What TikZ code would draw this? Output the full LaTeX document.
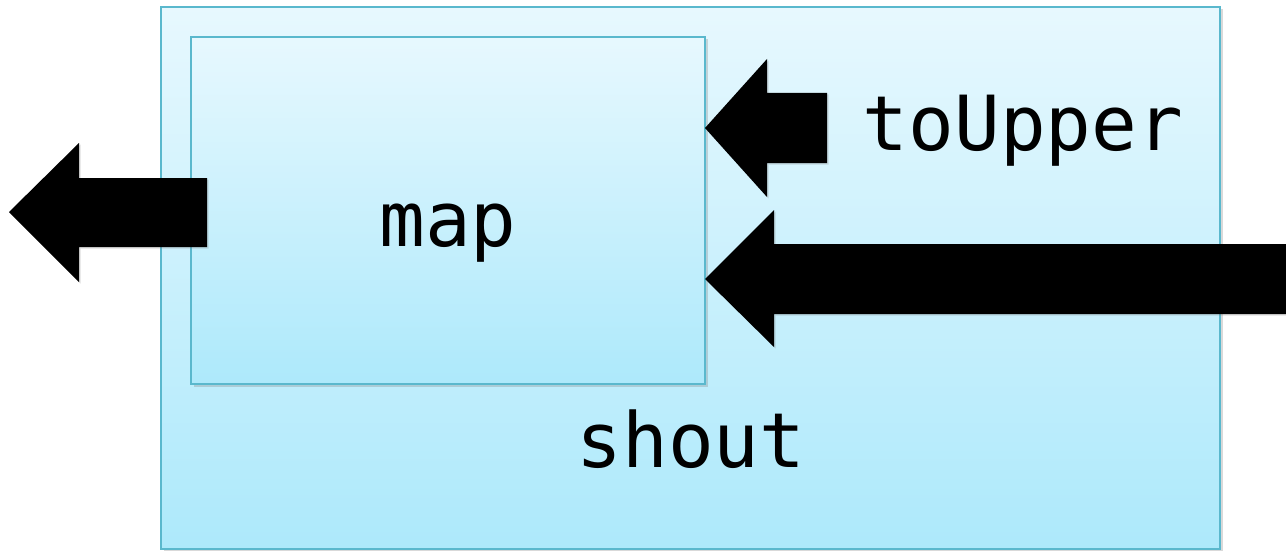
\documentclass[tikz,border=0pt]{standalone}
\usepackage{fontspec}
\newfontfamily\codefont{DejaVu Sans Mono}
\usetikzlibrary{shadows}
\definecolor{boxtop}{HTML}{E7F8FE}
\definecolor{boxbottom}{HTML}{ADE9FB}
\definecolor{boxline}{HTML}{5AB8CD}
\tikzset{
  panel/.style={draw=boxline, line width=2.5pt, top color=boxtop, bottom color=boxbottom,
    drop shadow={shadow xshift=2.5pt, shadow yshift=-2.5pt, opacity=0.3}},
  blockarrow/.style={fill=black, draw=none,
    drop shadow={shadow xshift=1.5pt, shadow yshift=-1.5pt, opacity=0.25}},
  codelabel/.style={font=\codefont\fontsize{76}{80}\selectfont, anchor=base, inner sep=0pt}
}
\begin{document}
\begin{tikzpicture}[x=1pt, y=-1pt]
  \useasboundingbox (0,0) rectangle (1286,551);
  % outer and inner boxes
  \path[panel] (161,7) rectangle (1220,549);
  \path[panel] (191,37) rectangle (705,384);
  % labels
  \node[codelabel] (map) at (448,246) {map};
  \node[codelabel] (toUpper) at (1023,150) {toUpper};
  \node[codelabel] (shout) at (691,467) {shout};
  % block arrows
  \path[blockarrow] (9,212) -- (79,143) -- (79,178) -- (207,178) -- (207,247)
    -- (79,247) -- (79,282) -- cycle;
  \path[blockarrow] (705,128) -- (767,59) -- (767,93) -- (827,93) -- (827,163)
    -- (767,163) -- (767,197) -- cycle;
  \path[blockarrow] (705,279) -- (774,210) -- (774,244) -- (1290,244) -- (1290,314)
    -- (774,314) -- (774,347) -- cycle;
\end{tikzpicture}
\end{document}
